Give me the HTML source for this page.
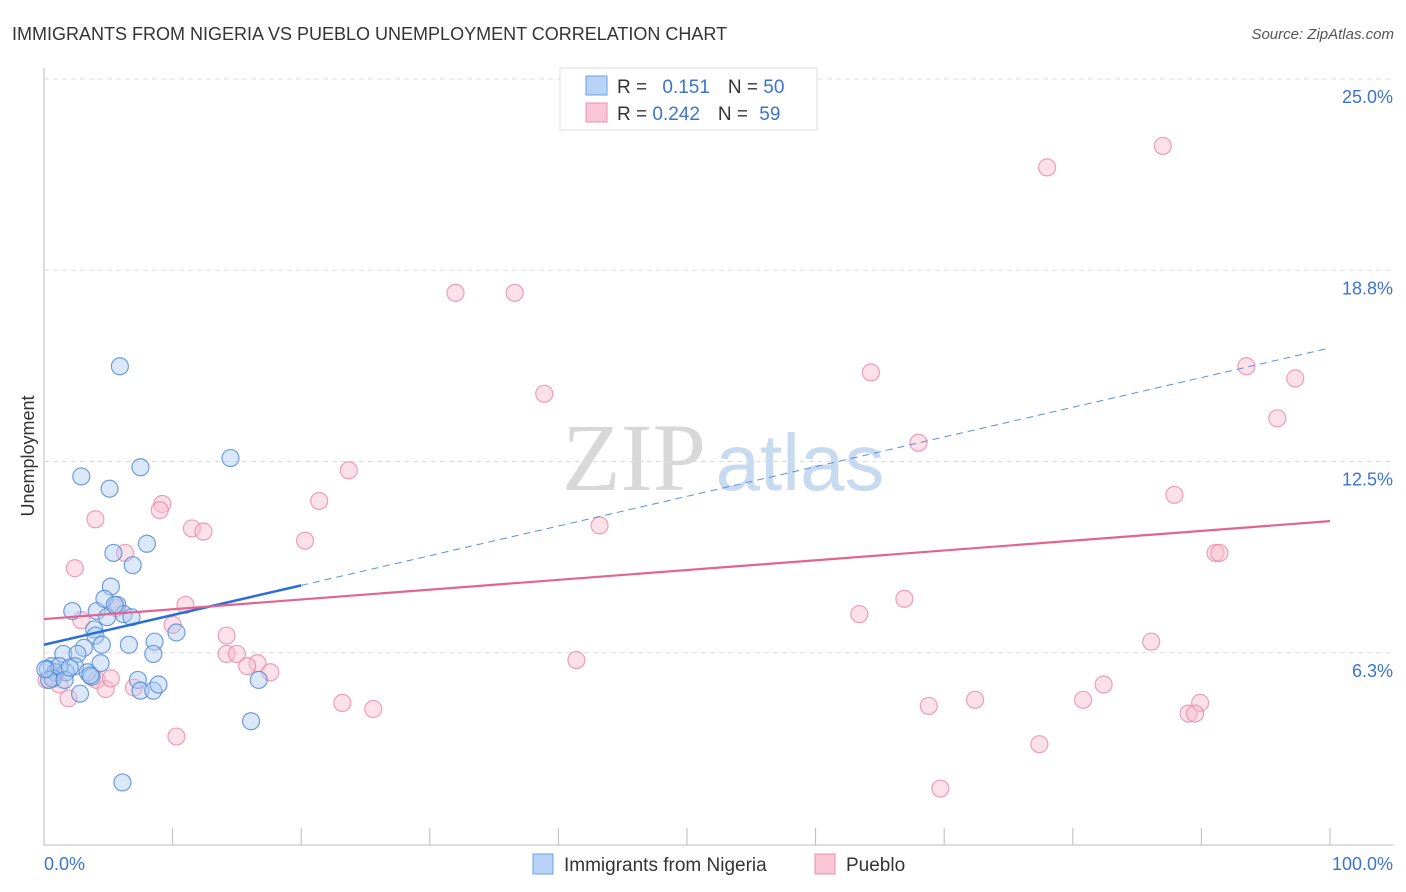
<!DOCTYPE html>
<html><head><meta charset="utf-8"><style>
body{margin:0;background:#fff;font-family:"Liberation Sans",sans-serif}
svg{display:block}
</style></head><body>
<svg id="c" width="1406" height="892" xmlns="http://www.w3.org/2000/svg">
<text x="12" y="40" font-size="18" fill="#333">IMMIGRANTS FROM NIGERIA VS PUEBLO UNEMPLOYMENT CORRELATION CHART</text>
<text x="1394" y="39" font-size="15" fill="#555" font-style="italic" text-anchor="end">Source: ZipAtlas.com</text>
<g>
<text x="634" y="490" font-size="96" font-family="Liberation Serif,serif" fill="#d8d8d8" text-anchor="middle">ZIP</text>
<text x="800" y="490" font-size="80" fill="#c8daf0" text-anchor="middle">atlas</text>
</g>
<text transform="translate(34,456) rotate(-90)" font-size="18" fill="#333" text-anchor="middle">Unemployment</text>
<g id="grid"></g><g id="pts"></g><g id="trend"></g>
<g>
<rect x="560" y="68" width="257" height="62" fill="#fff" stroke="#ddd"/>
<rect x="586" y="76" width="21" height="19" fill="#b8d3f5" stroke="#6a9fe0"/>
<rect x="586" y="103" width="21" height="19" fill="#f9c6d5" stroke="#ec8fac"/>
<text x="617" y="93" font-size="19" fill="#333">R = <tspan fill="#3b73d1" dx="10">0.151</tspan><tspan dx="18" fill="#333">N = </tspan><tspan fill="#3b73d1">50</tspan></text>
<text x="617" y="120" font-size="19" fill="#333">R = <tspan fill="#3b73d1">0.242</tspan><tspan dx="18" fill="#333">N = </tspan><tspan fill="#3b73d1" dx="6">59</tspan></text>
</g>
<text x="44" y="870" font-size="18" fill="#3b73d1">0.0%</text>
<text x="1393" y="870" font-size="18" fill="#3b73d1" text-anchor="end">100.0%</text>
<g>
<rect x="533" y="854" width="20" height="20" fill="#b8d3f5" stroke="#6a9fe0"/>
<text x="564" y="871" font-size="19" fill="#333">Immigrants from Nigeria</text>
<rect x="815" y="854" width="20" height="20" fill="#f9c6d5" stroke="#ec8fac"/>
<text x="846" y="871" font-size="19" fill="#333">Pueblo</text>
</g>
</svg>
<script>
const yTicks=[25,18.75,12.5,6.25];
const yTickLabels=["25.0%","18.8%","12.5%","6.3%"];
const xTicks=[0,10,20,30,40,50,60,70,80,90,100];
const nigeriaX=[5.9,2.9,5.1,7.5,14.5,5.4,8.0,6.9,5.2,2.2,4.1,4.7,5.7,6.2,6.8,4.9,3.9,4.0,3.1,4.5,6.6,8.6,10.3,8.5,1.5,2.6,4.4,2.4,0.6,0.3,0.9,1.7,3.4,3.7,0.7,0.4,2.8,7.3,7.5,8.5,8.9,16.7,16.1,6.1,1.2,0.1,5.5,1.6,3.6,2.0];
const nigeriaY=[16.2,12.6,12.2,12.9,13.2,10.1,10.4,9.7,9.0,8.2,8.2,8.6,8.4,8.1,8.0,8.0,7.6,7.4,7.0,7.1,7.1,7.2,7.5,6.8,6.8,6.8,6.5,6.4,6.4,6.3,6.2,6.2,6.2,6.05,6.0,5.95,5.5,5.95,5.6,5.6,5.8,5.95,4.6,2.6,6.4,6.3,8.4,5.95,6.1,6.35];
const puebloX=[87.0,78.0,32.0,36.6,38.9,64.3,93.5,97.3,95.9,68.0,23.7,21.4,87.9,43.2,9.2,9.0,4.0,11.5,12.4,20.3,6.3,2.4,91.1,91.4,11.0,2.9,10.0,5.6,66.9,63.4,86.1,14.2,14.2,15.0,16.6,15.8,17.6,41.4,4.1,4.8,7.0,5.2,1.9,0.6,0.2,23.2,25.6,68.8,72.4,80.8,82.4,89.9,89.0,89.5,77.4,10.3,69.7,1.2,0.9];
const puebloY=[23.4,22.7,18.6,18.6,15.3,16.0,16.2,15.8,14.5,13.7,12.8,11.8,12.0,11.0,11.7,11.5,11.2,10.9,10.8,10.5,10.1,9.6,10.1,10.1,8.4,7.9,7.75,8.3,8.6,8.1,7.2,7.4,6.8,6.8,6.5,6.4,6.2,6.6,5.95,5.65,5.7,6.0,5.35,6.0,5.95,5.2,5.0,5.1,5.3,5.3,5.8,5.2,4.85,4.85,3.85,4.1,2.4,5.8,6.2];
const nigeriaTrend=[[0,7.1],[20,9.04],[100,16.8]];
const puebloTrend=[[0,7.94],[100,11.14]];
const X=v=>44+v*12.86, Y=v=>862-v*30.6;
const NS="http://www.w3.org/2000/svg";
function mk(t,a,p){const e=document.createElementNS(NS,t);for(const k in a)e.setAttribute(k,a[k]);p.appendChild(e);return e;}
const grid=document.getElementById('grid');
mk('line',{x1:44,y1:68,x2:44,y2:845,stroke:'#bbb'},grid);
mk('line',{x1:44,y1:845,x2:1393,y2:845,stroke:'#bbb'},grid);
yTicks.forEach((v,i)=>{
 const l=mk('line',{x1:44,y1:Y(v)-18,x2:1393,y2:Y(v)-18,stroke:'#ddd','stroke-dasharray':'5,4'},grid);
 
 
 const t=mk('text',{x:1393,y:Y(v)+6,'font-size':18,fill:'#3b73d1','text-anchor':'end'},grid);
 t.textContent=yTickLabels[i];
 
 
});
xTicks.forEach(v=>{
 const l=mk('line',{x1:X(v),y1:828,x2:X(v),y2:845,stroke:'#bbb'},grid);
 
 
});
const pts=document.getElementById('pts');
function series(xs,ys,fill,stroke,name){xs.forEach((x,i)=>{
 const c=mk('circle',{cx:X(x),cy:Y(ys[i]),r:8.5,fill:fill,'fill-opacity':0.45,stroke:stroke,'stroke-width':1.2,'stroke-opacity':0.8},pts);
 
 
});}
series(puebloX,puebloY,'#f9bccd','#e98aa8','pueblo-point');
series(nigeriaX,nigeriaY,'#aecbf2','#4f86d8','nigeria-point');
const tr=document.getElementById('trend');
let a=mk('line',{x1:X(nigeriaTrend[0][0]),y1:Y(nigeriaTrend[0][1]),x2:X(nigeriaTrend[1][0]),y2:Y(nigeriaTrend[1][1]),stroke:'#2a6fd6','stroke-width':2.5},tr);


a=mk('line',{x1:X(nigeriaTrend[1][0]),y1:Y(nigeriaTrend[1][1]),x2:X(nigeriaTrend[2][0]),y2:Y(nigeriaTrend[2][1]),stroke:'#5a8fe0','stroke-width':1,'stroke-dasharray':'7,5'},tr);


a=mk('line',{x1:X(puebloTrend[0][0]),y1:Y(puebloTrend[0][1]),x2:X(puebloTrend[1][0]),y2:Y(puebloTrend[1][1]),stroke:'#e2648f','stroke-width':2.2},tr);


</script>
</body></html>
